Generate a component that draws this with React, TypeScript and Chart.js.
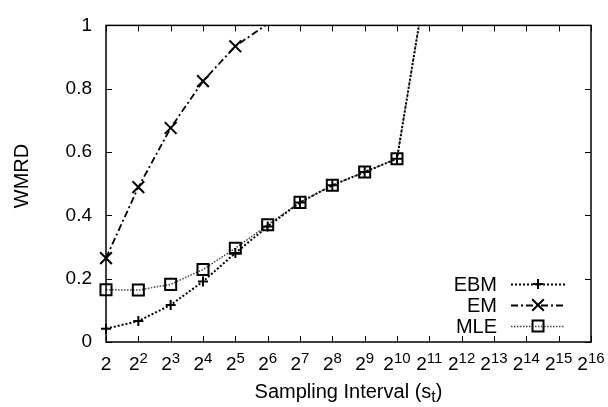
import React, { useEffect, useRef } from "react";
import { Chart, registerables } from "chart.js";

Chart.register(...registerables);

// ---- data ----
const exponents = ["1", "2", "3", "4", "5", "6", "7", "8", "9", "10", "11", "12", "13", "14", "15", "16"];
const tickBase = "2";
const ebmValues = [0.042, 0.066, 0.117, 0.191, 0.281, 0.365, 0.441, 0.495, 0.537, 0.579, 1.2, null, null, null, null, null];
const emValues = [0.265, 0.489, 0.676, 0.824, 0.934, 1.005, null, null, null, null, null, null, null, null, null, null];
const mleValues = [0.165, 0.164, 0.182, 0.229, 0.296, 0.37, 0.441, 0.495, 0.537, 0.579, 1.2, null, null, null, null, null];
const seriesNames = ["EBM", "EM", "MLE"];
const yTitle = "WMRD";
const xTitleMain = "Sampling Interval (s";
const xTitleSub = "t";
const xTitleEnd = ")";

const FONT = '"Liberation Sans", Arial, Helvetica, sans-serif';

function hideAbove(r: number) {
  return (ctx: any) => (ctx.raw != null && ctx.raw > 1 ? 0 : r);
}

function drawMarker(ctx: CanvasRenderingContext2D, style: string, x: number, y: number) {
  ctx.save();
  ctx.setLineDash([]);
  ctx.strokeStyle = "#000";
  ctx.lineWidth = 2;
  ctx.beginPath();
  if (style === "cross") {
    ctx.moveTo(x - 5, y);
    ctx.lineTo(x + 5, y);
    ctx.moveTo(x, y - 5);
    ctx.lineTo(x, y + 5);
  } else if (style === "crossRot") {
    const d = 5.8;
    ctx.moveTo(x - d, y - d);
    ctx.lineTo(x + d, y + d);
    ctx.moveTo(x - d, y + d);
    ctx.lineTo(x + d, y - d);
  } else {
    const s = 5.5;
    ctx.rect(x - s, y - s, 2 * s, 2 * s);
  }
  ctx.stroke();
  ctx.restore();
}

const decorPlugin = {
  id: "decor",
  afterDraw(chart: any) {
    const { ctx, chartArea: a, scales } = chart;
    const xs = scales.x;
    const ys = scales.y;
    ctx.save();
    ctx.setLineDash([]);
    ctx.strokeStyle = "#000";
    ctx.fillStyle = "#000";
    // inward tick marks on all four sides
    ctx.lineWidth = 1;
    ctx.beginPath();
    for (let i = 0; i < exponents.length; i++) {
      const px = Math.round(xs.getPixelForTick(i)) + 0.5;
      ctx.moveTo(px, a.bottom);
      ctx.lineTo(px, a.bottom - 6);
      ctx.moveTo(px, a.top);
      ctx.lineTo(px, a.top + 6);
    }
    for (let i = 0; i < ys.ticks.length; i++) {
      const py = Math.round(ys.getPixelForTick(i)) + 0.5;
      ctx.moveTo(a.left, py);
      ctx.lineTo(a.left + 6, py);
      ctx.moveTo(a.right, py);
      ctx.lineTo(a.right - 6, py);
    }
    ctx.stroke();
    // frame
    ctx.lineWidth = 1.5;
    ctx.strokeRect(a.left, a.top, a.right - a.left, a.bottom - a.top);

    // x tick labels with superscripts
    const baseFont = `19px ${FONT}`;
    const supFont = `15px ${FONT}`;
    ctx.textAlign = "left";
    ctx.textBaseline = "alphabetic";
    for (let i = 0; i < exponents.length; i++) {
      const px = xs.getPixelForTick(i);
      const sup = exponents[i] === "1" ? "" : exponents[i];
      ctx.font = baseFont;
      const wb = ctx.measureText(tickBase).width;
      ctx.font = supFont;
      const ws = sup ? ctx.measureText(sup).width : 0;
      const start = px - (wb + ws) / 2;
      ctx.font = baseFont;
      ctx.fillText(tickBase, start, 370);
      if (sup) {
        ctx.font = supFont;
        ctx.fillText(sup, start + wb, 363);
      }
    }

    // x title with subscript
    const tFont = `20px ${FONT}`;
    const sFont = `16px ${FONT}`;
    ctx.font = tFont;
    const w1 = ctx.measureText(xTitleMain).width;
    const w3 = ctx.measureText(xTitleEnd).width;
    ctx.font = sFont;
    const w2 = ctx.measureText(xTitleSub).width;
    const cx = (a.left + a.right) / 2;
    let sx = cx - (w1 + w2 + w3) / 2;
    ctx.font = tFont;
    ctx.fillText(xTitleMain, sx, 398);
    sx += w1;
    ctx.font = sFont;
    ctx.fillText(xTitleSub, sx, 402);
    sx += w2;
    ctx.font = tFont;
    ctx.fillText(xTitleEnd, sx, 398);

    // y title
    ctx.save();
    ctx.translate(22, 176);
    ctx.rotate(-Math.PI / 2);
    ctx.font = `20px ${FONT}`;
    ctx.textAlign = "center";
    ctx.textBaseline = "middle";
    ctx.fillText(yTitle, 0, 0);
    ctx.restore();

    // legend (gnuplot style: text right-aligned, sample on the right)
    chart.data.datasets.forEach((ds: any, i: number) => {
      const ry = 284 + i * 21;
      ctx.font = `20px ${FONT}`;
      ctx.textAlign = "right";
      ctx.textBaseline = "middle";
      ctx.fillStyle = "#000";
      ctx.fillText(ds.label, 497, ry + 1);
      ctx.save();
      ctx.strokeStyle = ds.borderColor;
      ctx.lineWidth = ds.borderWidth;
      ctx.setLineDash(ds.borderDash);
      ctx.beginPath();
      ctx.moveTo(511, ry + 0.5);
      ctx.lineTo(565, ry + 0.5);
      ctx.stroke();
      ctx.restore();
      drawMarker(ctx, ds.pointStyle, 538, ry);
    });
    ctx.restore();
  },
};

export default function App() {
  const ref = useRef<HTMLCanvasElement | null>(null);
  useEffect(() => {
    if (!ref.current) return;
    const clip = { left: 15, right: 15, top: 0, bottom: 15 };
    const chart = new Chart(ref.current, {
      type: "line",
      data: {
        labels: exponents,
        datasets: [
          {
            label: seriesNames[0],
            data: ebmValues,
            borderColor: "#000",
            borderWidth: 2,
            borderDash: [2, 2],
            pointStyle: "cross",
            pointRadius: hideAbove(5),
            pointBorderWidth: 2,
            pointBorderColor: "#000",
            pointBackgroundColor: "rgba(0,0,0,0)",
            tension: 0,
            clip,
          },
          {
            label: seriesNames[1],
            data: emValues,
            borderColor: "#000",
            borderWidth: 1.8,
            borderDash: [7, 3, 2, 3],
            pointStyle: "crossRot",
            pointRadius: hideAbove(8.3),
            pointBorderWidth: 2,
            pointBorderColor: "#000",
            pointBackgroundColor: "rgba(0,0,0,0)",
            tension: 0,
            clip,
          },
          {
            label: seriesNames[2],
            data: mleValues,
            borderColor: "#444",
            borderWidth: 1.5,
            borderDash: [1.5, 1.5],
            pointStyle: "rect",
            pointRadius: hideAbove(7.8),
            pointBorderWidth: 2,
            pointBorderColor: "#000",
            pointBackgroundColor: "rgba(0,0,0,0)",
            tension: 0,
            clip,
          },
        ],
      },
      options: {
        responsive: false,
        maintainAspectRatio: false,
        devicePixelRatio: 1,
        animation: false,
        layout: { padding: { left: 0, right: 17, top: 17, bottom: 0 } },
        plugins: { legend: { display: false }, tooltip: { enabled: false } },
        scales: {
          x: {
            type: "category",
            grid: { display: false, drawTicks: false },
            border: { display: false },
            ticks: { display: false },
            afterFit: (s: any) => {
              s.height = 65;
            },
          },
          y: {
            min: 0,
            max: 1,
            grid: { display: false, drawTicks: false },
            border: { display: false },
            ticks: {
              stepSize: 0.2,
              padding: 14,
              color: "#000",
              font: { family: FONT, size: 19 },
              callback: (v: any) => String(Math.round(Number(v) * 10) / 10),
            },
            afterFit: (s: any) => {
              s.width = 106;
            },
          },
        },
      },
      plugins: [decorPlugin],
    } as any);
    return () => chart.destroy();
  }, []);
  return (
    <div style={{ position: "fixed", left: 0, top: 0, width: 608, height: 407, background: "#fff" }}>
      <canvas ref={ref} width={608} height={407} style={{ display: "block" }} />
    </div>
  );
}
